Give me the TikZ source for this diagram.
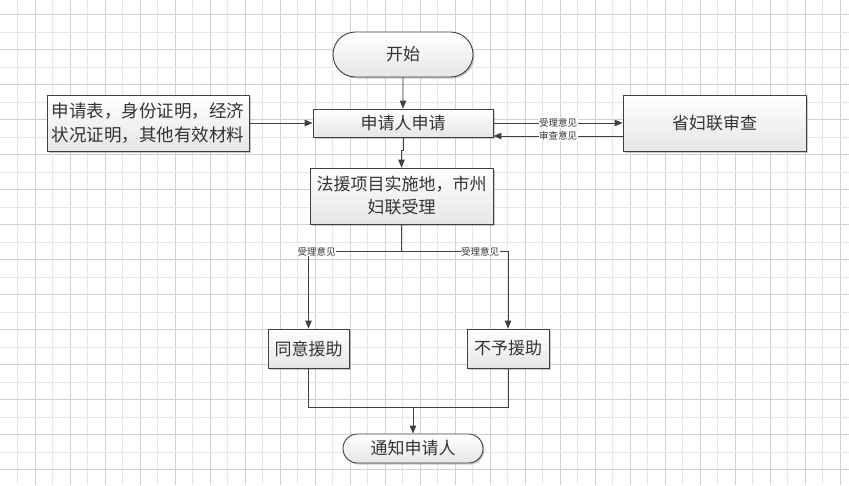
\documentclass[tikz,border=0pt]{standalone}
\usepackage{fontspec}
\setmainfont{Noto Sans CJK SC}
\usetikzlibrary{arrows.meta,shapes.misc,shadows,calc}
\definecolor{gridlight}{HTML}{E6E6E6}
\definecolor{griddark}{HTML}{D0D0D0}
\definecolor{linegray}{HTML}{404040}
\definecolor{textgray}{HTML}{333333}
\definecolor{boxbottom}{HTML}{E6E6E6}

\begin{document}
\begin{tikzpicture}[x=1pt, y=-1pt,
  box/.style={draw=linegray, line width=0.9pt, top color=white, bottom color=boxbottom,
    drop shadow={shadow xshift=1.5pt, shadow yshift=-1.5pt, opacity=0.35, fill=black!60},
    inner sep=0pt, align=center, text=textgray, font=\fontsize{17}{23}\selectfont},
  term/.style={box, rounded rectangle},
  flow/.style={draw=linegray, line width=0.9pt},
  arr/.style={flow, -{Triangle[length=8pt,width=6.5pt]}},
  tag/.style={fill=white, inner sep=0.5pt, text=textgray, font=\fontsize{9.5}{10}\selectfont}
]

% === Wymiary ===
\useasboundingbox (0,0) rectangle (849,485);
\fill[white] (0,0) rectangle (849,485);

% === Siatka ===
\foreach \k in {0,...,23} {
  \draw[gridlight, line width=0.6pt] (17.3+35.02*\k, 0) -- (17.3+35.02*\k, 485);
  \draw[griddark, line width=0.6pt] (34.81+35.02*\k, 0) -- (34.81+35.02*\k, 485);
}
\foreach \k in {0,...,13} {
  \draw[griddark, line width=0.6pt] (0, 14.3+35.02*\k) -- (849, 14.3+35.02*\k);
  \draw[gridlight, line width=0.6pt] (0, 31.81+35.02*\k) -- (849, 31.81+35.02*\k);
}

% === Węzły ===
\node[term, minimum width=140pt, minimum height=45pt] (start) at (403, 54.5) {开始};
\node[box, minimum width=180pt, minimum height=28pt] (apply) at (403, 123) {申请人申请};
\node[box, minimum width=202pt, minimum height=56pt, font=\fontsize{17.5}{24}\selectfont]
  (docs) at (148, 123) {申请表，身份证明，经济\\状况证明，其他有效材料};
\node[box, minimum width=183pt, minimum height=56pt] (review) at (714.5, 123) {省妇联审查};
\node[box, minimum width=183pt, minimum height=56pt] (accept) at (401.5, 196)
  {法援项目实施地，市州\\妇联受理};
\node[box, minimum width=81pt, minimum height=39pt] (agree) at (308.5, 348.5) {同意援助};
\node[box, minimum width=82pt, minimum height=39pt] (refuse) at (508, 348.5) {不予援助};
\node[term, minimum width=140pt, minimum height=29pt] (notify) at (413, 448.5) {通知申请人};

% === Połączenia ===
\draw[arr] (start) -- (apply);
\draw[arr] (docs) -- (apply);
\draw[arr] (apply.east) -- node[tag] {受理意见} (review.west);
\draw[arr] ([yshift=-13pt]review.west) -- node[tag] {审查意见} ([yshift=-13pt]review.west -| apply.east);
\draw[arr] (apply.south) -- ++(0,13) -| (accept.north);

% Rozgałęzienie
\coordinate (split) at ($(accept.south)+(0,27)$);
\draw[flow] (accept.south) -- (split);
\draw[arr] (split) -| (agree.north);
\draw[arr] (split) -| (refuse.north);
\node[tag] at ([xshift=8pt]agree.north |- split) {受理意见};
\node[tag] at ([xshift=-28pt]refuse.north |- split) {受理意见};

% Złączenie
\coordinate (merge) at ($(notify.north)+(0,-26)$);
\draw[flow] (agree.south) |- (merge);
\draw[flow] (refuse.south) |- (merge);
\draw[arr] (merge) -- (notify.north);

\end{tikzpicture}
\end{document}
